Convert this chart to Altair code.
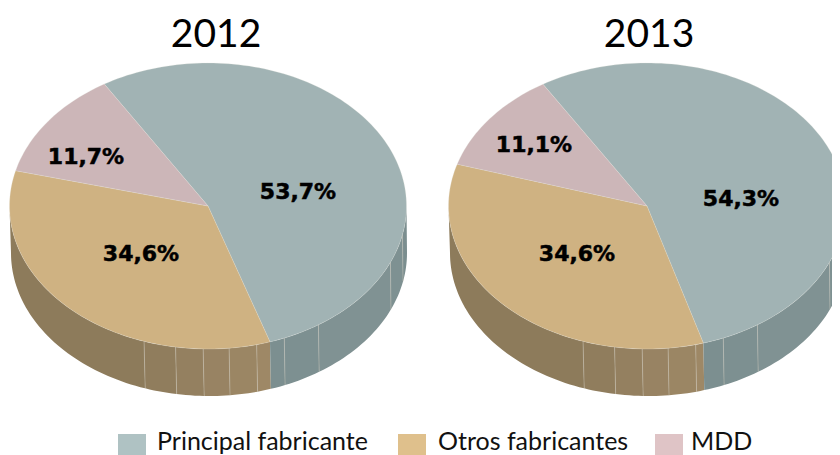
import math
import altair as alt

# ---- chart values ----
years = ["2012", "2013"]
categories = ["Principal fabricante", "Otros fabricantes", "MDD"]
labels = {"2012": ["53,7%", "34,6%", "11,7%"], "2013": ["54,3%", "34,6%", "11,1%"]}
# slice edges as drawn in the picture, in degrees clockwise from the back of the pie
edges = {"2012": [-31.5, 161.8, 284.3, 328.5], "2013": [-31.6, 163.5, 287.0, 328.4]}

# ---- layout and styles ----
OFF = 8  # page margin
W, H = 824, 447
CENTER_X = {"2012": 208.0, "2013": 647.0}
CENTER_Y = 206.0
RX, RY = 198.5, 143.0
DEPTH = 47.0
TITLE_X = {"2012": 216, "2013": 649}
TITLE_Y = 47
LABEL_POS = {
    "2012": [(298, 192), (141, 254), (86, 157)],
    "2013": [(741, 199), (577, 254), (534, 145)],
}
TOP_FILL = ["#a1b3b4", "#cfb282", "#ccb6b8"]
LEGEND_FILL = ["#afc2c3", "#dfc08c", "#dfc4c6"]
LEGEND_BOX = [(118, 146), (398, 426), (655, 683)]
LEGEND_TEXT_X = [157, 438, 691]
FACETS = [270, 198.8, 189.4, 181.4, 173.9, 165.8, 157.4, 146.2, 113.2, 101.5, 90]
TAN_SHADES = ["#8d7b5b", "#907d5d", "#948060", "#988363", "#9b8664", "#9e8866",
              "#9e8866", "#9e8866", "#9e8866", "#9e8866"]
GRAY_SHADES = ["#7c8f90", "#7c8f90", "#7c8f90", "#7c8f90", "#7c8f90", "#7c8f90",
               "#7d9091", "#809293", "#7e9192", "#7b8e8f"]


def top_pt(cx, deg):
    t = math.radians(deg)
    return [cx + RX * math.sin(t) - OFF, CENTER_Y - RY * math.cos(t) - OFF]


def bottom_pt(cx, deg):
    t = math.radians(deg)
    return [cx + 1 + (RX - 0.5) * math.sin(t) - OFF,
            CENTER_Y + DEPTH - RY * math.cos(t) - OFF]


def steps(a, b):
    n = max(2, int(abs(b - a) / 1.5) + 1)
    return [a + (b - a) * i / n for i in range(n + 1)]


def feature(geom_type, coords, **props):
    return {"type": "Feature", "properties": props,
            "geometry": {"type": geom_type, "coordinates": coords}}


walls, seams, slices, texts = [], [], [], []
for year in years:
    cx = CENTER_X[year]
    gray_end = edges[year][1]
    for i in range(len(FACETS) - 1):
        hi, lo = FACETS[i], FACETS[i + 1]
        if lo < gray_end < hi:
            parts = [(hi, gray_end, TAN_SHADES[i]), (gray_end, lo, GRAY_SHADES[i])]
        elif lo >= gray_end:
            parts = [(hi, lo, TAN_SHADES[i])]
        else:
            parts = [(hi, lo, GRAY_SHADES[i])]
        for a, b, colour in parts:
            ring = [top_pt(cx, d) for d in steps(a, b)]
            ring += [bottom_pt(cx, d) for d in steps(b, a)]
            ring.append(ring[0])
            walls.append(feature("Polygon", [ring], fill=colour))
        if i > 0:
            seams.append(feature("LineString", [top_pt(cx, hi), bottom_pt(cx, hi)], fill="x"))
    for i in range(3):
        a, b = edges[year][i], edges[year][i + 1]
        ring = [[cx - OFF, CENTER_Y - OFF]] + [top_pt(cx, d) for d in steps(a, b)]
        ring.append(ring[0])
        slices.append(feature("Polygon", [ring], fill=TOP_FILL[i], cat=categories[i]))
    for (x, y), lab in zip(LABEL_POS[year], labels[year]):
        texts.append({"lon": x - OFF, "lat": y - OFF, "t": lab})

boxes = []
for (x0, x1), colour, cat in zip(LEGEND_BOX, LEGEND_FILL, categories):
    ring = [[x0 - OFF, 434 - OFF], [x1 - OFF, 434 - OFF], [x1 - OFF, H],
            [x0 - OFF, H], [x0 - OFF, 434 - OFF]]
    boxes.append(feature("Polygon", [ring], fill=colour, cat=cat))

titles = [{"lon": TITLE_X[y] - OFF, "lat": TITLE_Y - OFF, "t": y} for y in years]
legend_text = [{"lon": x - OFF, "lat": 450 - OFF, "t": c} for x, c in zip(LEGEND_TEXT_X, categories)]

projection = dict(type="identity", scale=1, translate=[0, 0])


def shapes(features, **mark):
    return alt.Chart(alt.Data(values=features)).mark_geoshape(**mark).encode(
        color=alt.Color("properties.fill:N", scale=None)
    ).project(**projection)


def lines(features):
    return alt.Chart(alt.Data(values=features)).mark_geoshape(
        filled=False, stroke="#c9c5b8", strokeWidth=0.6, strokeOpacity=0.75
    ).project(**projection)


def words(rows, **mark):
    return alt.Chart(alt.Data(values=rows)).mark_text(**mark).encode(
        longitude="lon:Q", latitude="lat:Q", text="t:N"
    ).project(**projection)


chart = alt.layer(
    shapes(walls),
    lines(seams),
    shapes(slices, stroke="#e4e4dc", strokeWidth=0.4, strokeOpacity=0.6),
    shapes(boxes),
    words(titles, font="Lato", fontSize=39, align="center", baseline="alphabetic", color="#000000"),
    words(texts, font="DejaVu Sans", fontWeight="bold", fontSize=22, align="center", baseline="middle",
          color="#000000", stroke="#000000", strokeWidth=0.5),
    words(legend_text, font="Lato", fontSize=25, align="left", baseline="alphabetic", color="#111111"),
).properties(
    width=W, height=H, padding=0, autosize=alt.AutoSizeParams(type="none")
).configure_view(stroke=None)

chart.save("out.html", embed_options={"renderer": "svg", "actions": False})
